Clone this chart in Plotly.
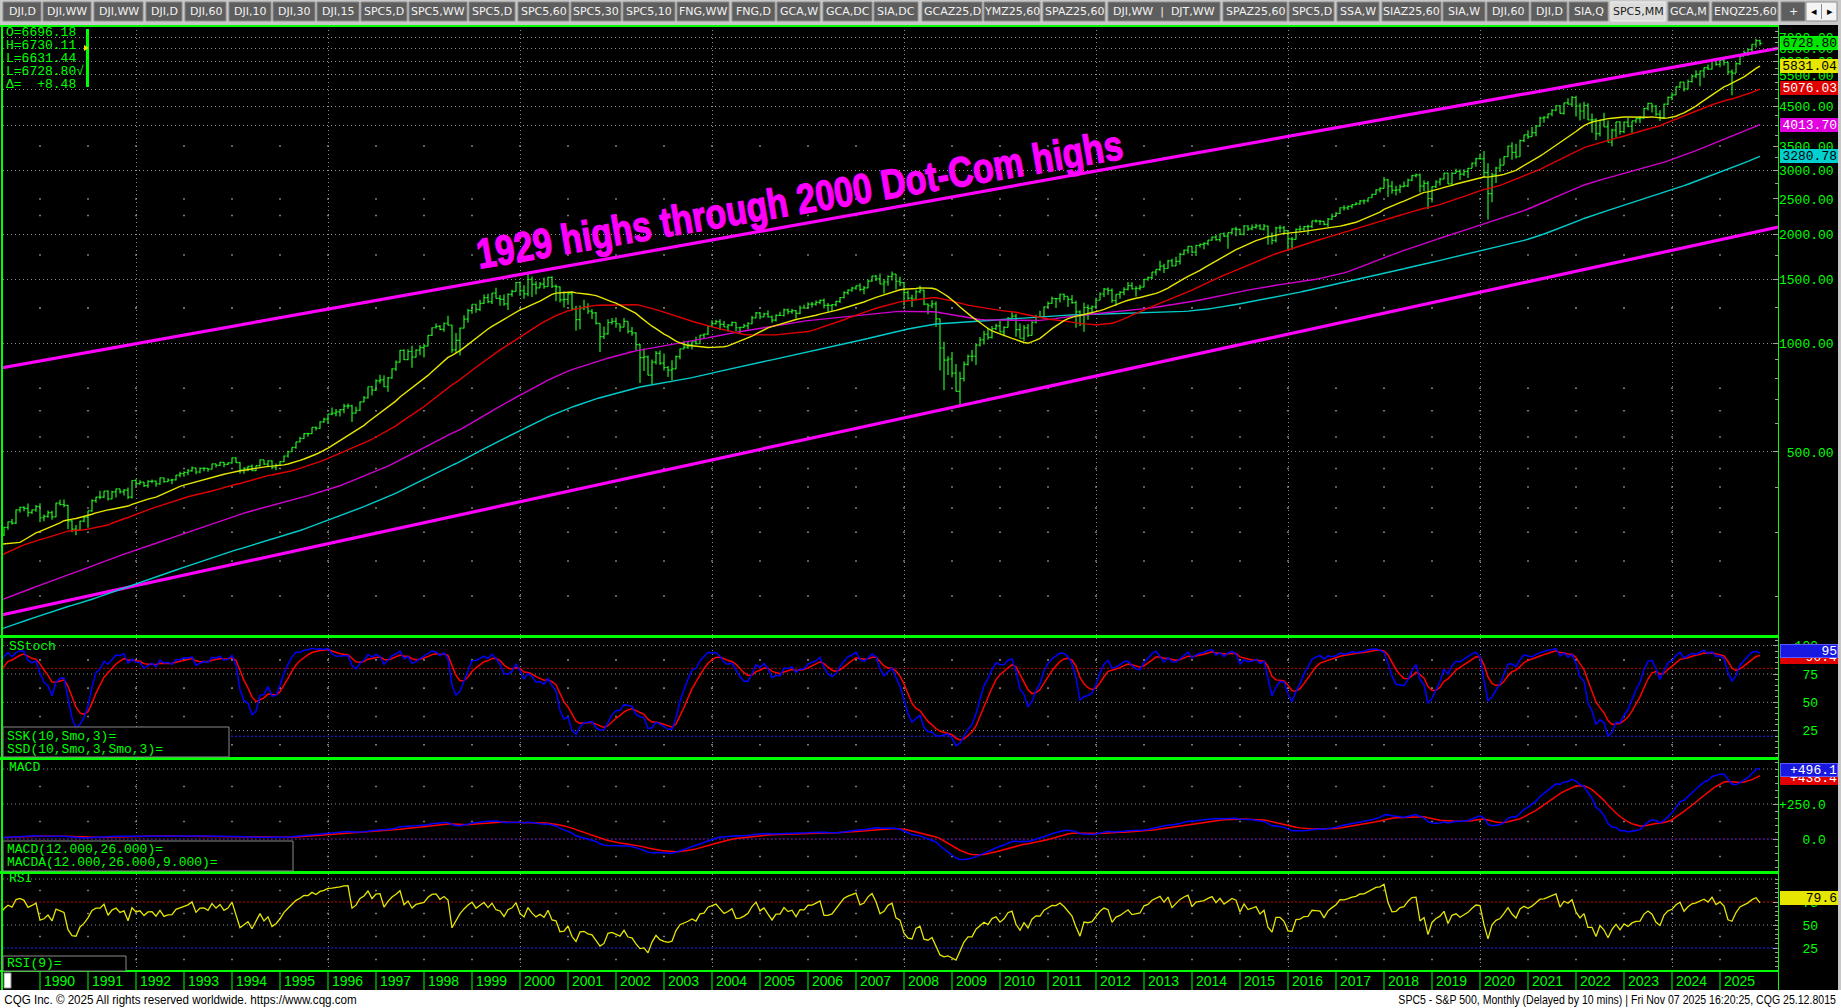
import math
import numpy as np
import pandas as pd
import plotly.graph_objects as go

# ----------------------------------------------------------------- DATA
# Monthly closes Jan 1976 .. Mar 1989 (warm-up history for the averages/indicators, not drawn)
HIST_CLOSE = [
    100.86, 99.71, 102.77, 101.64, 100.18, 104.28, 103.44, 102.91, 105.24, 102.90, 102.10, 107.46,
    102.03, 99.82, 98.42, 98.44, 96.12, 100.48, 98.85, 96.77, 96.53, 92.34, 94.83, 95.10,
    89.25, 87.04, 89.21, 96.83, 97.24, 95.53, 100.68, 103.29, 102.54, 93.15, 94.70, 96.11,
    99.93, 96.28, 101.59, 101.76, 99.08, 102.91, 103.81, 109.32, 109.32, 101.82, 106.16, 107.94,
    114.16, 113.66, 102.09, 106.29, 111.24, 114.24, 121.67, 122.38, 125.46, 127.47, 140.52, 135.76,
    129.55, 131.27, 136.00, 132.81, 132.59, 131.21, 130.92, 122.79, 116.18, 121.89, 126.35, 122.55,
    120.40, 113.11, 111.96, 116.44, 111.88, 109.61, 107.09, 119.51, 120.42, 133.71, 138.54, 140.64,
    145.30, 148.06, 152.96, 164.42, 162.39, 168.11, 162.56, 164.40, 166.07, 163.55, 166.40, 164.93,
    163.41, 157.06, 159.18, 160.05, 150.55, 153.18, 150.66, 166.68, 166.10, 166.09, 163.58, 167.24,
    179.63, 181.18, 180.66, 179.83, 189.55, 191.85, 190.92, 188.63, 182.08, 189.82, 202.17, 211.28,
    211.78, 226.92, 238.90, 235.52, 247.35, 250.84, 236.12, 252.93, 231.32, 243.98, 249.22, 242.17,
    274.08, 284.20, 291.70, 288.36, 290.10, 304.00, 318.66, 329.80, 321.83, 251.79, 230.30, 247.08,
    257.07, 267.82, 258.89, 261.33, 262.16, 273.50, 272.02, 261.52, 271.91, 278.97, 273.70, 277.72,
    297.47, 288.86, 294.87,
]
HIST_START_YEAR = 1976

# Drawn monthly bars, Apr 1989 .. Nov 2025
CLOSE = [
    309.64, 320.52, 317.98, 346.08, 351.45, 349.15, 340.36, 345.99, 353.40,
    329.08, 331.89, 339.94, 330.80, 361.23, 358.02, 356.15, 322.56, 306.05, 304.00, 322.22, 330.22,
    343.93, 367.07, 375.22, 375.34, 389.83, 371.16, 387.81, 395.43, 387.86, 392.45, 375.22, 417.09,
    408.79, 412.70, 403.69, 414.95, 415.35, 408.14, 424.21, 414.03, 417.80, 418.68, 431.35, 435.71,
    438.78, 443.38, 451.67, 440.19, 450.19, 450.53, 448.13, 463.56, 458.93, 467.83, 461.79, 466.45,
    481.61, 467.14, 445.77, 450.91, 456.50, 444.27, 458.26, 475.49, 462.69, 472.35, 453.69, 459.27,
    470.42, 487.39, 500.71, 514.71, 533.40, 544.75, 562.06, 561.88, 584.41, 581.50, 605.37, 615.93,
    636.02, 640.43, 645.50, 654.17, 669.12, 670.63, 639.95, 651.99, 687.31, 705.27, 757.02, 740.74,
    786.16, 790.82, 757.12, 801.34, 848.28, 885.14, 954.29, 899.47, 947.28, 914.62, 955.40, 970.43,
    980.28, 1049.34, 1101.75, 1111.75, 1090.82, 1133.84, 1120.67, 957.28, 1017.01, 1098.67, 1163.63, 1229.23,
    1279.64, 1238.33, 1286.37, 1335.18, 1301.84, 1372.71, 1328.72, 1320.41, 1282.71, 1362.93, 1388.91, 1469.25,
    1394.46, 1366.42, 1498.58, 1452.43, 1420.60, 1454.60, 1430.83, 1517.68, 1436.51, 1429.40, 1314.95, 1320.28,
    1366.01, 1239.94, 1160.33, 1249.46, 1255.82, 1224.42, 1211.23, 1133.58, 1040.94, 1059.78, 1139.45, 1148.08,
    1130.20, 1106.73, 1147.39, 1076.92, 1067.14, 989.82, 911.62, 916.07, 815.28, 885.76, 936.31, 879.82,
    855.70, 841.15, 848.18, 916.92, 963.59, 974.50, 990.31, 1008.01, 995.97, 1050.71, 1058.20, 1111.92,
    1131.13, 1144.94, 1126.21, 1107.30, 1120.68, 1140.84, 1101.72, 1104.24, 1114.58, 1130.20, 1173.82, 1211.92,
    1181.27, 1203.60, 1180.59, 1156.85, 1191.50, 1191.33, 1234.18, 1220.33, 1228.81, 1207.01, 1249.48, 1248.29,
    1280.08, 1280.66, 1294.87, 1310.61, 1270.09, 1270.20, 1276.66, 1303.82, 1335.85, 1377.94, 1400.63, 1418.30,
    1438.24, 1406.82, 1420.86, 1482.37, 1530.62, 1503.35, 1455.27, 1473.99, 1526.75, 1549.38, 1481.14, 1468.36,
    1378.55, 1330.63, 1322.70, 1385.59, 1400.38, 1280.00, 1267.38, 1282.83, 1166.36, 968.75, 896.24, 903.25,
    825.88, 735.09, 797.87, 872.81, 919.14, 919.32, 987.48, 1020.62, 1057.08, 1036.19, 1095.63, 1115.10,
    1073.87, 1104.49, 1169.43, 1186.69, 1089.41, 1030.71, 1101.60, 1049.33, 1141.20, 1183.26, 1180.55, 1257.64,
    1286.12, 1327.22, 1325.83, 1363.61, 1345.20, 1320.64, 1292.28, 1218.89, 1131.42, 1253.30, 1246.96, 1257.60,
    1312.41, 1365.68, 1408.47, 1397.91, 1310.33, 1362.16, 1379.32, 1406.58, 1440.67, 1412.16, 1416.18, 1426.19,
    1498.11, 1514.68, 1569.19, 1597.57, 1630.74, 1606.28, 1685.73, 1632.97, 1681.55, 1756.54, 1805.81, 1848.36,
    1782.59, 1859.45, 1872.34, 1883.95, 1923.57, 1960.23, 1930.67, 2003.37, 1972.29, 2018.05, 2067.56, 2058.90,
    1994.99, 2104.50, 2067.89, 2085.51, 2107.39, 2063.11, 2103.84, 1972.18, 1920.03, 2079.36, 2080.41, 2043.94,
    1940.24, 1932.23, 2059.74, 2065.30, 2096.95, 2098.86, 2173.60, 2170.95, 2168.27, 2126.15, 2198.81, 2238.83,
    2278.87, 2363.64, 2362.72, 2384.20, 2411.80, 2423.41, 2470.30, 2471.65, 2519.36, 2575.26, 2647.58, 2673.61,
    2823.81, 2713.83, 2640.87, 2648.05, 2705.27, 2718.37, 2816.29, 2901.52, 2913.98, 2711.74, 2760.17, 2506.85,
    2704.10, 2784.49, 2834.40, 2945.83, 2752.06, 2941.76, 2980.38, 2926.46, 2976.74, 3037.56, 3140.98, 3230.78,
    3225.52, 2954.22, 2584.59, 2912.43, 3044.31, 3100.29, 3271.12, 3500.31, 3363.00, 3269.96, 3621.63, 3756.07,
    3714.24, 3811.15, 3972.89, 4181.17, 4204.11, 4297.50, 4395.26, 4522.68, 4307.54, 4605.38, 4567.00, 4766.18,
    4515.55, 4373.94, 4530.41, 4131.93, 4132.15, 3785.38, 4130.29, 3955.00, 3585.62, 3871.98, 4080.11, 3839.50,
    4076.60, 3970.15, 4109.31, 4169.48, 4179.83, 4450.38, 4588.96, 4507.66, 4288.05, 4193.80, 4567.80, 4769.83,
    4845.65, 5096.27, 5254.35, 5035.69, 5277.51, 5460.48, 5522.30, 5648.40, 5762.48, 5705.45, 6032.38, 5881.63,
    6040.53, 5954.50, 5611.85, 5569.06, 5911.69, 6204.95, 6339.39, 6460.26, 6688.46, 6840.20, 6728.80,
]
HIGH = [
    310.5, 321.5, 326.7, 347.0, 353.0, 354.0, 360.0, 347.0, 357.0,
    360.6, 336.0, 344.5, 344.0, 362.0, 369.0, 369.8, 357.0, 325.0, 314.0, 323.0, 332.0,
    344.0, 370.0, 376.0, 391.0, 390.0, 392.0, 391.0, 396.0, 396.0, 395.0, 399.0, 418.0,
    420.8, 418.0, 413.0, 418.0, 420.0, 417.0, 425.0, 425.0, 423.0, 422.0, 432.0, 441.0,
    442.0, 449.0, 456.0, 451.0, 453.0, 454.0, 451.0, 464.0, 463.6, 470.0, 469.0, 468.0,
    482.9, 483.0, 469.0, 454.0, 458.0, 462.0, 459.0, 477.0, 476.0, 474.0, 474.0, 465.0,
    472.0, 489.0, 504.0, 515.0, 534.0, 551.0, 564.0, 565.0, 585.0, 588.0, 608.0, 622.0,
    637.0, 664.0, 657.0, 657.0, 679.0, 681.0, 675.0, 667.0, 690.0, 714.0, 758.0, 762.0,
    794.0, 817.0, 815.0, 805.0, 851.0, 895.0, 957.0, 961.0, 961.0, 983.0, 961.0, 986.0,
    993.0, 1051.0, 1106.0, 1132.0, 1122.0, 1139.0, 1190.0, 1121.0, 1066.0, 1103.0, 1193.0, 1244.0,
    1280.0, 1284.0, 1317.0, 1362.0, 1368.0, 1375.0, 1420.0, 1356.0, 1361.0, 1373.0, 1404.0, 1474.0,
    1478.0, 1444.0, 1552.9, 1527.0, 1481.0, 1475.0, 1517.0, 1525.0, 1530.0, 1450.0, 1433.0, 1390.0,
    1384.0, 1377.0, 1268.0, 1269.0, 1316.0, 1287.0, 1239.0, 1218.0, 1135.0, 1111.0, 1164.0, 1173.0,
    1176.0, 1130.0, 1173.0, 1147.0, 1107.0, 1070.0, 994.0, 965.0, 924.0, 901.0, 951.0, 954.0,
    935.0, 864.0, 896.0, 924.0, 965.0, 1015.0, 1015.0, 1011.0, 1040.0, 1053.0, 1063.0, 1112.0,
    1155.0, 1159.0, 1163.0, 1150.0, 1128.0, 1147.0, 1141.0, 1109.0, 1131.0, 1142.0, 1188.0, 1217.0,
    1217.9, 1212.0, 1229.0, 1192.0, 1200.0, 1219.0, 1245.0, 1245.0, 1243.0, 1233.0, 1270.0, 1276.0,
    1295.0, 1297.0, 1310.0, 1318.0, 1326.7, 1290.0, 1280.0, 1307.0, 1340.0, 1389.0, 1407.0, 1431.0,
    1441.0, 1461.6, 1438.0, 1498.0, 1535.0, 1540.0, 1555.9, 1503.0, 1538.0, 1576.1, 1552.0, 1523.0,
    1471.0, 1396.0, 1359.0, 1404.0, 1440.2, 1404.0, 1285.0, 1313.0, 1303.0, 1167.0, 1007.5, 918.9,
    943.9, 875.0, 832.9, 888.7, 930.2, 956.2, 996.7, 1039.5, 1080.2, 1101.4, 1113.7, 1130.4,
    1150.5, 1112.4, 1180.2, 1219.8, 1205.1, 1131.2, 1120.9, 1129.2, 1148.9, 1196.1, 1227.1, 1262.6,
    1302.7, 1344.1, 1332.3, 1370.6, 1370.6, 1345.2, 1356.5, 1307.4, 1230.7, 1292.7, 1277.6, 1269.4,
    1333.5, 1378.0, 1419.2, 1422.4, 1415.3, 1363.5, 1392.0, 1426.7, 1474.5, 1470.96, 1434.3, 1448.0,
    1503.3, 1525.8, 1570.3, 1597.6, 1687.2, 1654.2, 1698.0, 1709.7, 1729.9, 1775.2, 1813.6, 1849.4,
    1850.8, 1867.9, 1883.97, 1897.3, 1924.0, 1968.2, 1991.4, 2005.0, 2019.3, 2018.2, 2075.8, 2093.6,
    2072.4, 2119.6, 2114.9, 2125.9, 2134.7, 2129.9, 2132.8, 2112.7, 2020.9, 2094.3, 2116.5, 2104.3,
    2038.2, 1962.96, 2072.2, 2111.1, 2103.5, 2120.6, 2177.1, 2193.8, 2187.9, 2169.6, 2214.1, 2277.5,
    2300.99, 2371.5, 2400.98, 2398.2, 2418.7, 2453.8, 2484.0, 2490.9, 2519.4, 2582.98, 2657.7, 2694.97,
    2872.9, 2835.96, 2801.9, 2717.5, 2742.2, 2791.5, 2848.0, 2916.5, 2940.9, 2939.9, 2815.2, 2800.2,
    2708.95, 2813.5, 2860.3, 2949.5, 2954.1, 2964.2, 3027.98, 3013.6, 3021.99, 3050.1, 3154.3, 3247.9,
    3337.8, 3393.5, 3136.7, 2954.9, 3068.7, 3233.1, 3279.99, 3514.8, 3588.1, 3549.9, 3645.99, 3760.2,
    3870.9, 3950.4, 3994.4, 4218.8, 4238.0, 4302.4, 4429.97, 4537.4, 4545.9, 4608.1, 4743.8, 4808.9,
    4818.6, 4595.3, 4637.3, 4593.5, 4307.7, 4177.5, 4140.2, 4325.3, 4119.3, 3905.4, 4080.1, 4100.96,
    4094.2, 4195.4, 4110.8, 4170.1, 4231.1, 4458.5, 4607.1, 4584.6, 4541.3, 4393.6, 4587.6, 4793.3,
    4931.1, 5111.1, 5264.9, 5263.95, 5341.9, 5505.5, 5669.7, 5651.6, 5767.4, 5878.5, 6044.2, 6099.97,
    6128.2, 6147.4, 5986.1, 5695.3, 5968.6, 6215.1, 6427.0, 6508.2, 6699.5, 6920.3, 6890.6,
]
LOW = [
    293.0, 305.0, 314.5, 316.0, 340.0, 343.0, 331.0, 337.0, 342.0,
    320.0, 322.0, 329.0, 325.0, 330.0, 356.0, 352.0, 306.0, 300.0, 294.5, 303.0, 320.0,
    309.0, 342.0, 362.0, 370.0, 373.0, 367.0, 370.0, 374.0, 384.0, 379.0, 371.0, 372.0,
    403.0, 406.0, 400.0, 398.0, 410.0, 401.0, 406.0, 411.0, 413.0, 407.0, 417.0, 426.0,
    427.0, 431.0, 441.0, 434.0, 437.0, 442.0, 441.0, 447.0, 453.0, 457.0, 454.0, 460.0,
    464.0, 466.0, 436.0, 435.0, 442.0, 442.0, 443.0, 455.0, 460.0, 454.0, 448.0, 445.0,
    457.0, 468.0, 483.0, 499.0, 510.0, 531.0, 544.0, 551.0, 561.0, 573.0, 579.0, 602.0,
    597.0, 632.0, 628.0, 627.0, 640.0, 658.0, 605.0, 639.0, 649.0, 686.0, 703.0, 716.0,
    737.0, 773.0, 755.0, 733.0, 797.0, 837.0, 883.0, 898.0, 896.0, 855.0, 912.0, 925.0,
    912.0, 980.0, 1046.0, 1096.0, 1084.0, 1074.0, 1118.0, 940.0, 939.0, 923.0, 1096.0, 1137.0,
    1205.0, 1212.0, 1226.0, 1282.0, 1287.0, 1281.0, 1328.0, 1268.0, 1268.0, 1233.7, 1342.0, 1387.0,
    1350.0, 1325.0, 1346.0, 1339.0, 1361.0, 1421.0, 1413.0, 1431.0, 1419.0, 1305.0, 1294.0, 1254.0,
    1275.0, 1229.0, 1081.0, 1091.0, 1232.0, 1203.0, 1165.0, 1124.0, 944.8, 1026.0, 1054.0, 1124.0,
    1101.0, 1074.0, 1106.0, 1063.0, 1048.0, 952.9, 775.7, 837.0, 815.0, 768.6, 872.0, 870.0,
    840.0, 806.0, 788.9, 847.0, 902.0, 963.0, 962.0, 960.0, 990.0, 995.0, 1031.0, 1053.0,
    1105.0, 1124.0, 1087.0, 1107.0, 1076.0, 1113.0, 1078.0, 1060.7, 1101.0, 1090.0, 1127.0, 1173.0,
    1163.0, 1180.0, 1176.0, 1137.0, 1146.0, 1188.0, 1183.0, 1201.0, 1205.0, 1168.0, 1201.0, 1246.0,
    1245.0, 1253.0, 1268.0, 1280.0, 1245.0, 1219.0, 1224.0, 1261.0, 1290.0, 1327.0, 1360.0, 1385.0,
    1403.0, 1389.0, 1364.0, 1416.0, 1476.0, 1484.0, 1452.0, 1370.6, 1439.0, 1489.0, 1406.1, 1435.0,
    1270.1, 1316.0, 1256.9, 1312.0, 1373.0, 1272.0, 1200.4, 1248.0, 1106.4, 839.8, 741.0, 815.7,
    804.3, 734.5, 666.8, 783.3, 866.1, 888.9, 869.3, 978.5, 991.0, 1020.2, 1029.4, 1085.9,
    1071.6, 1044.5, 1105.4, 1170.7, 1040.8, 1028.3, 1010.9, 1039.7, 1049.3, 1131.9, 1173.0, 1180.8,
    1256.0, 1282.9, 1249.1, 1294.7, 1311.8, 1258.1, 1282.9, 1101.5, 1114.2, 1074.8, 1158.7, 1202.4,
    1258.9, 1312.0, 1340.0, 1357.4, 1291.98, 1266.7, 1325.4, 1354.7, 1396.6, 1403.3, 1343.4, 1398.1,
    1426.2, 1485.0, 1501.5, 1536.0, 1581.3, 1560.3, 1604.6, 1627.5, 1633.4, 1646.5, 1746.2, 1767.99,
    1770.5, 1737.9, 1834.4, 1814.4, 1859.8, 1915.98, 1916.5, 1904.8, 1964.0, 1820.7, 2001.0, 1972.6,
    1988.1, 1980.9, 2039.7, 2048.4, 2067.9, 2056.3, 2044.0, 1867.0, 1871.9, 1893.7, 2019.4, 1993.3,
    1812.3, 1810.1, 1937.1, 2033.8, 2025.9, 1991.7, 2074.0, 2147.6, 2119.1, 2114.7, 2083.8, 2187.4,
    2245.1, 2271.7, 2322.3, 2328.95, 2352.7, 2405.7, 2407.7, 2417.4, 2446.6, 2520.4, 2566.2, 2605.5,
    2682.4, 2532.7, 2585.9, 2553.8, 2594.6, 2691.99, 2698.95, 2796.3, 2864.1, 2603.5, 2631.1, 2346.6,
    2443.96, 2681.8, 2722.3, 2848.6, 2750.5, 2728.8, 2952.2, 2822.1, 2891.9, 2855.96, 3050.7, 3070.3,
    3214.6, 2855.8, 2191.9, 2447.5, 2766.6, 2965.7, 3101.2, 3284.5, 3209.5, 3233.9, 3279.7, 3594.0,
    3662.7, 3725.6, 3723.3, 3955.5, 4056.9, 4164.4, 4233.1, 4367.7, 4305.9, 4278.9, 4560.0, 4495.1,
    4222.6, 4114.7, 4157.9, 4124.3, 3810.3, 3636.9, 3721.6, 3954.5, 3584.1, 3491.6, 3698.2, 3764.5,
    3794.3, 3943.1, 3808.9, 4049.3, 4048.3, 4166.2, 4385.1, 4335.3, 4238.6, 4103.8, 4167.2, 4546.5,
    4682.1, 4853.4, 5056.8, 4953.6, 5011.1, 5234.3, 5390.95, 5119.3, 5402.6, 5674.0, 5696.5, 5832.3,
    5773.3, 5837.7, 5504.7, 4835.0, 5578.6, 5861.4, 6201.0, 6212.7, 6360.6, 6550.2, 6631.4,
]

MA_PERIODS = [23, 44, 103, 159]                      # yellow, red, magenta, cyan
PRICE_LAST = 6728.80
MA_LAST = [5831.04, 5076.03, 4013.70, 3280.78]
SSK_LAST, SSD_LAST = "95", "90.4"
SSK_LAST_V, SSD_LAST_V = 95.0, 90.4
MACD_LAST, MACDA_LAST = "+496.1", "+438.4"
MACD_LAST_V, MACDA_LAST_V = 496.1, 438.4
RSI_LAST, RSI_LAST_V = "79.6", 79.6
INFO_LINES = ["O=6696.18", "H=6730.11", "L=6631.44", "L=6728.80\u221a", "\u0394=\u00a0\u00a0+8.48"]

YEARS = list(range(1990, 2026))
GRID_YEARS = list(range(1992, 2025, 4))
PRICE_LABELS = [500, 1000, 1500, 2000, 2500, 3000, 3500, 4000, 4500, 5000, 5500, 6000, 6500, 7000]
PRICE_HIDDEN = [4000, 5000]          # labels fully covered by value boxes in the reference
PRICE_GRID = [500, 1000, 1500, 2000, 3000, 4000, 4500, 5000, 5500, 6000, 6500, 7000]
PRICE_DOTS = [200, 250, 300, 350, 400, 450, 550, 650, 750, 1250, 1750, 2250, 2500, 3500]
PRICE_MINOR = [200, 300, 400, 600, 700, 800, 900] + list(range(1250, 7500, 250))

TREND_X = [1989.0, 2026.5]
TREND_UPPER = [845.0, 6620.0]
TREND_LOWER = [175.0, 2130.0]
TREND_TEXT = "1929 highs through 2000 Dot-Com highs"

TABS = ["DJI,D", "DJI,WW", "DJI,WW", "DJI,D", "DJI,60", "DJI,10", "DJI,30", "DJI,15", "SPC5,D",
        "SPC5,WW", "SPC5,D", "SPC5,60", "SPC5,30", "SPC5,10", "FNG,WW", "FNG,D", "GCA,W", "GCA,DC",
        "SIA,DC", "GCAZ25,D", "YMZ25,60", "SPAZ25,60", "DJI,WW\u00a0\u00a0|\u00a0\u00a0DJT,WW", "SPAZ25,60",
        "SPC5,D", "SSA,W", "SIAZ25,60", "SIA,W", "DJI,60", "DJI,D", "SIA,Q", "SPC5,MM", "GCA,M",
        "ENQZ25,60", "+"]
ACTIVE_TAB = 31
FOOTER_LEFT = "CQG Inc. \u00a9 2025 All rights reserved worldwide. https://www.cqg.com"
FOOTER_RIGHT = "SPC5 - S&amp;P 500, Monthly (Delayed by 10 mins) | Fri Nov 07 2025 16:20:25, CQG 25.12.8015"

# ----------------------------------------------------------------- GEOMETRY / STYLE
W, H = 1841, 1008
PL, PR, PT, PB = 3, 1778, 26, 970
PW, PH = PR - PL, PB - PT
TAB_EDGES = [(3, 41), (43, 91), (94, 143), (146, 182), (185, 226), (229, 271), (273, 315), (317, 359),
             (361, 407), (409, 467), (469, 515), (518, 569), (571, 621), (623, 675), (677, 729),
             (732, 775), (777, 820), (823, 872), (874, 918), (922, 982), (984, 1040), (1043, 1105),
             (1108, 1220), (1223, 1287), (1289, 1334), (1337, 1379), (1382, 1441), (1443, 1485),
             (1487, 1529), (1531, 1567), (1569, 1608), (1611, 1665), (1668, 1709), (1712, 1778),
             (1781, 1805)]


def xp(X):
    return (X - PL) / PW


def yp(Y):
    return (PB - Y) / PH


GREEN = "#00ff00"
BAR_GREEN = "#22ee22"
GRIDC = "#8e8e8e"
MONO = "Liberation Mono, DejaVu Sans Mono, monospace"
SANS = "Liberation Sans, Arial, sans-serif"
TABFONT = "DejaVu Sans, Verdana, sans-serif"
MA_COLORS = ["#e6e600", "#e00000", "#d000d0", "#00cccc"]
BOX_BG = ["#e6e600", "#e00000", "#e000e0", "#00d0d0"]
BOX_FG = ["black", "white", "white", "black"]

# ----------------------------------------------------------------- COMPUTATION
n_hist = len(HIST_CLOSE)
n = min(len(CLOSE), len(HIGH), len(LOW))
cl = np.array(CLOSE[:n], float)
op = np.array([HIST_CLOSE[-1]] + CLOSE[:n - 1], float)
hi = np.maximum.reduce([np.array(HIGH[:n], float), op, cl])
lo = np.minimum.reduce([np.array(LOW[:n], float), op, cl])

c_all = pd.Series(np.concatenate([HIST_CLOSE, cl]))
h_all = pd.Series(np.concatenate([HIST_CLOSE, hi]))
l_all = pd.Series(np.concatenate([HIST_CLOSE, lo]))
t_all = HIST_START_YEAR + np.arange(len(c_all)) / 12.0
t_bar = t_all[n_hist:]
s0 = n_hist - 1  # start drawn lines one month before first bar

mas = [c_all.rolling(p).mean() for p in MA_PERIODS]


def smo(s, k):
    return s.ewm(alpha=1.0 / k, adjust=False).mean()


ll = l_all.rolling(10).min()
hh = h_all.rolling(10).max()
ssk = 100 * smo(c_all - ll, 3) / smo(hh - ll, 3)
ssd = smo(ssk, 3)

macd = c_all.ewm(span=12, adjust=False).mean() - c_all.ewm(span=26, adjust=False).mean()
macda = macd.ewm(span=9, adjust=False).mean()

d = c_all.diff()
ag = d.clip(lower=0).ewm(alpha=1 / 9, adjust=False).mean()
al = (-d.clip(upper=0)).ewm(alpha=1 / 9, adjust=False).mean()
rsi = 100 - 100 / (1 + ag / al)

# axis ranges from pixel rows
X0 = (1989 + 3 / 12) - 0.25 / 12
X1 = X0 + PW / 48.0
LOG_RANGE = [3 - (635 - 343) / 362.0, 3 + (343 - 26) / 362.0]
STO_RANGE = [(758.9 - 757) / 1.132, (758.9 - 638) / 1.132]
MACD_RANGE = [(839 - 871) / 0.14, (839 - 760) / 0.14]
RSI_RANGE = [(971 - 970) / 0.92, (971 - 874) / 0.92]

# ----------------------------------------------------------------- TRACES
fig = go.Figure()


def dots(levels, yaxis):
    xs, ys = [], []
    for lv in levels:
        for yr in YEARS:
            xs.append(yr)
            ys.append(lv)
    fig.add_trace(go.Scatter(x=xs, y=ys, mode="markers", yaxis=yaxis, hoverinfo="skip",
                             marker=dict(symbol="square", size=1.6, color="#9a9a9a", line=dict(width=0))))


dots(PRICE_DOTS, "y")
dots([12.5, 37.5, 62.5, 87.5], "y2")
dots([-125, 125, 375], "y3")
dots([12.5, 37.5, 62.5, 87.5], "y4")

for ty in (TREND_UPPER, TREND_LOWER):
    fig.add_trace(go.Scatter(x=TREND_X, y=ty, mode="lines", yaxis="y", hoverinfo="skip",
                             line=dict(color="#ff00ff", width=3.2)))

for ma, col in reversed(list(zip(mas, MA_COLORS))):
    fig.add_trace(go.Scatter(x=t_all[s0:], y=ma.values[s0:], mode="lines", yaxis="y", hoverinfo="skip",
                             line=dict(color=col, width=1.4)))

fig.add_trace(go.Ohlc(x=t_bar, open=op, high=hi, low=lo, close=cl, yaxis="y", tickwidth=0.42,
                      increasing=dict(line=dict(color=BAR_GREEN, width=1.2)),
                      decreasing=dict(line=dict(color=BAR_GREEN, width=1.2)), hoverinfo="skip"))

fig.add_trace(go.Scatter(x=t_all[s0:], y=ssd.values[s0:], mode="lines", yaxis="y2",
                         line=dict(color="#ff0000", width=1.5), hoverinfo="skip"))
fig.add_trace(go.Scatter(x=t_all[s0:], y=ssk.values[s0:], mode="lines", yaxis="y2",
                         line=dict(color="#0000ff", width=1.5), hoverinfo="skip"))
fig.add_trace(go.Scatter(x=t_all[s0:], y=macda.values[s0:], mode="lines", yaxis="y3",
                         line=dict(color="#ff0000", width=1.5), hoverinfo="skip"))
fig.add_trace(go.Scatter(x=t_all[s0:], y=macd.values[s0:], mode="lines", yaxis="y3",
                         line=dict(color="#0000ff", width=1.5), hoverinfo="skip"))
fig.add_trace(go.Scatter(x=t_all[s0:], y=rsi.values[s0:], mode="lines", yaxis="y4",
                         line=dict(color="#e6e600", width=1.3), hoverinfo="skip"))

# ----------------------------------------------------------------- SHAPES
shapes = []


def prect(X0_, Y0_, X1_, Y1_, fill, line=None, lw=0, layer="above"):
    shapes.append(dict(type="rect", xref="paper", yref="paper", x0=xp(X0_), x1=xp(X1_),
                       y0=yp(Y1_), y1=yp(Y0_), fillcolor=fill, layer=layer,
                       line=dict(color=line or fill, width=lw)))


def pline(X0_, Y0_, X1_, Y1_, color, width, dash="solid", layer="above"):
    shapes.append(dict(type="line", xref="paper", yref="paper", x0=xp(X0_), x1=xp(X1_),
                       y0=yp(Y0_), y1=yp(Y1_), layer=layer, line=dict(color=color, width=width, dash=dash)))


def hline(yref, v, color, dash="1px,3px"):
    shapes.append(dict(type="line", xref="paper", yref=yref, x0=0, x1=1, y0=v, y1=v, layer="below",
                       line=dict(color=color, width=1, dash=dash)))


for v in (25, 50, 75, 100):
    hline("y2", v, GRIDC)
hline("y2", 80, "#c00000", "2px,2px")
hline("y2", 20, "#2020ff", "2px,2px")
for v in (250, 500):
    hline("y3", v, GRIDC)
hline("y3", 0, "#2020ff", "2px,2px")
hline("y3", 0, "#c00000", "1px,3px")
for v in (50, 100):
    hline("y4", v, GRIDC)
hline("y4", 75, "#c00000", "2px,2px")
hline("y4", 25, "#2020ff", "2px,2px")

# tab strip
prect(0, 0, W, 25, "#c8c8c8")
for i, (lab, (a, b)) in enumerate(zip(TABS, TAB_EDGES)):
    act = i == ACTIVE_TAB
    prect(a, 2, b, 21, "#dcdcdc" if act else "#5e5e5e", "#f0f0f0" if act else "#8c8c8c", 1)
prect(1806, 2, 1837, 21, "#f4f4f4", "#8c8c8c", 1)
pline(1821.5, 4, 1821.5, 19, "#8c8c8c", 1)

# panel frame
pline(0, 26, 1779, 26, GREEN, 2)
pline(0, 636.5, 1779, 636.5, GREEN, 3)
pline(0, 758.5, 1779, 758.5, GREEN, 3)
pline(0, 872.5, 1779, 872.5, GREEN, 3)
pline(0, 971, 1779, 971, GREEN, 2)
pline(2, 26, 2, 990, GREEN, 2)
pline(1778.5, 26, 1778.5, 990, GREEN, 1)
pline(1839.5, 25, 1839.5, 990, "#c8c8c8", 3)

# indicator parameter boxes
prect(3, 727, 229, 757, "black", "#8a8a8a", 1)
prect(3, 841, 293, 871, "black", "#8a8a8a", 1)
prect(3, 956, 126, 971, "black", "#8a8a8a", 1)

# info box bar + marker
prect(86, 29, 89, 87, GREEN)
shapes.append(dict(type="path", xref="paper", yref="paper", layer="above",
                   path="M {} {} L {} {} L {} {} Z".format(xp(84), yp(45), xp(89), yp(48), xp(84), yp(51)),
                   fillcolor="#e6e600", line=dict(width=0)))

# x-axis row
for yr in YEARS:
    shapes.append(dict(type="line", xref="x", yref="paper", x0=yr, x1=yr, y0=yp(971), y1=yp(990),
                       layer="above", line=dict(color=GREEN, width=1)))
prect(4, 973, 11, 988, "white", "#909090", 1)
prect(0, 990, W, H, "white")

# ----------------------------------------------------------------- ANNOTATIONS
ann = []


def ptext(X, Y, text, size=13, color=GREEN, family=MONO, xanchor="left", **kw):
    ann.append(dict(x=xp(X), y=yp(Y), xref="paper", yref="paper", text=text, showarrow=False,
                    xanchor=xanchor, yanchor="middle", font=dict(family=family, size=size, color=color), **kw))


def vbox(yref, yv, text, bg, fg, border=None):
    ann.append(dict(x=xp(1780), y=yv, xref="paper", yref=yref, text=text, showarrow=False,
                    xanchor="left", yanchor="middle", width=56, height=12, align="right",
                    bgcolor=bg, bordercolor=border or bg, borderwidth=1, borderpad=0,
                    font=dict(family=MONO, size=13, color=fg)))


for i, (lab, (a, b)) in enumerate(zip(TABS, TAB_EDGES)):
    act = i == ACTIVE_TAB
    ptext((a + b) / 2, 12, lab, size=11, color="#202020" if act else "#f2f2f2", family=TABFONT,
          xanchor="center")
ptext(1813.5, 12, "\u25c2", size=11, color="black", family=TABFONT, xanchor="center")
ptext(1829.5, 12, "\u25b8", size=11, color="black", family=TABFONT, xanchor="center")

for k, line in enumerate(INFO_LINES):
    ptext(4, 32.5 + k * 13.1, line)

ptext(7, 646, "SStoch")
ptext(5, 736, "SSK(10,Smo,3)=")
ptext(5, 749.5, "SSD(10,Smo,3,Smo,3)=")
ptext(7, 767, "MACD")
ptext(5, 849, "MACD(12.000,26.000)=")
ptext(5, 862.5, "MACDA(12.000,26.000,9.000)=")
ptext(7, 878, "RSI")
ptext(5, 963.5, "RSI(9)=")

# rotated trend line caption (condensed horizontally in post_script)
ann.append(dict(x=xp(799), y=yp(199.5), xref="paper", yref="paper", text="<b>" + TREND_TEXT + "</b>",
                showarrow=False, xanchor="center", yanchor="middle", textangle=-9.7,
                font=dict(family=SANS, size=42, color="#ff00ff")))

# year labels
for yr in YEARS:
    ann.append(dict(x=yr, y=yp(980.5), xref="x", yref="paper", text=str(yr), showarrow=False,
                    xanchor="left", yanchor="middle", xshift=2,
                    font=dict(family=SANS, size=14, color=GREEN)))

# last-value boxes
vbox("y", math.log10(PRICE_LAST), "{:.2f}".format(PRICE_LAST), "#00e600", "black", "#00ff00")
for v, bg, fg in zip(MA_LAST, BOX_BG, BOX_FG):
    vbox("y", math.log10(v), "{:.2f}".format(v), bg, fg)
vbox("y2", SSD_LAST_V, SSD_LAST, "#e00000", "white")
vbox("y2", SSK_LAST_V, SSK_LAST, "#1818e0", "white", "#5a5aff")
vbox("y3", MACDA_LAST_V, MACDA_LAST, "#e00000", "white")
vbox("y3", MACD_LAST_V, MACD_LAST, "#1818e0", "white", "#5a5aff")
vbox("y4", RSI_LAST_V, RSI_LAST, "#e6e600", "black")

# footer
ptext(2, 999.5, FOOTER_LEFT, size=12, color="black", family=SANS)
ptext(1838, 999.5, FOOTER_RIGHT, size=12, color="black", family=SANS, xanchor="right")


# ----------------------------------------------------------------- LAYOUT
def pad(s, width):
    return "\u00a0" * max(0, width - len(s)) + s


TICKFONT = dict(family=MONO, size=13, color=GREEN)
common = dict(showline=False, zeroline=False, fixedrange=True, side="right", anchor="x",
              tickfont=TICKFONT, ticks="inside", ticklen=5, tickcolor="#a0a0a0")

price_text = ["" if v in PRICE_HIDDEN else pad("{:.2f}".format(v), 7) for v in PRICE_LABELS]

layout = dict(
    width=W, height=H, margin=dict(l=PL, r=W - PR, t=PT, b=H - PB, pad=0),
    paper_bgcolor="black", plot_bgcolor="black", showlegend=False, hovermode=False,
    xaxis=dict(domain=[0, 1], range=[X0, X1], anchor="y4", showticklabels=False, ticks="",
               tickmode="array", tickvals=GRID_YEARS, showgrid=True, gridcolor=GRIDC, gridwidth=1,
               griddash="1px,3px", zeroline=False, showline=False, fixedrange=True,
               rangeslider=dict(visible=False)),
    yaxis=dict(domain=[yp(635), 1.0], type="log", range=LOG_RANGE, showticklabels=False, ticks="",
               tickmode="array", tickvals=PRICE_GRID, showgrid=True, gridcolor=GRIDC, gridwidth=1,
               griddash="1px,3px", zeroline=False, showline=False, fixedrange=True, side="right",
               anchor="x"),
    yaxis5=dict(overlaying="y", type="log", range=LOG_RANGE, showgrid=False, tickmode="array",
                tickvals=PRICE_LABELS, ticktext=price_text,
                minor=dict(tickmode="array", tickvals=PRICE_MINOR, ticks="inside", ticklen=3,
                           tickcolor="#a0a0a0", showgrid=False),
                **common),
    yaxis2=dict(domain=[yp(757), yp(638)], range=STO_RANGE, showgrid=False, tickmode="array",
                tickvals=[25, 50, 75, 100], ticktext=[pad(s, 5) for s in ["25", "50", "75", "100"]],
                minor=dict(tickmode="array", tickvals=list(range(5, 106, 5)), ticks="inside", ticklen=3,
                           tickcolor="#a0a0a0", showgrid=False),
                **common),
    yaxis3=dict(domain=[yp(871), yp(760)], range=MACD_RANGE, showgrid=False, tickmode="array",
                tickvals=[0, 250, 500], ticktext=[pad("0.0", 6), "+250.0", ""],
                minor=dict(tickmode="array", tickvals=list(range(-200, 561, 50)), ticks="inside", ticklen=3,
                           tickcolor="#a0a0a0", showgrid=False),
                **common),
    yaxis4=dict(domain=[0.0, yp(874)], range=RSI_RANGE, showgrid=False, tickmode="array",
                tickvals=[25, 50, 75], ticktext=[pad(s, 5) for s in ["25", "50", "75"]],
                minor=dict(tickmode="array", tickvals=list(range(5, 106, 5)), ticks="inside", ticklen=3,
                           tickcolor="#a0a0a0", showgrid=False),
                **common),
    shapes=shapes,
    annotations=ann,
)
fig.update_layout(**layout)

# attach an invisible trace to the label axis so it is rendered
fig.add_trace(go.Scatter(x=[X0], y=[1000], yaxis="y5", mode="markers", marker=dict(opacity=0),
                         hoverinfo="skip"))

POST = """
document.body.style.margin='0';document.body.style.overflow='hidden';
(function(){
  var gd=document.getElementById('{plot_id}');
  function fit(prefix, target, origin, stroke){
    gd.querySelectorAll('text.annotation-text').forEach(function(t){
      if(t.textContent.indexOf(prefix)===0){
        var L=t.getComputedTextLength();
        if(L>0){
          t.style.transformBox='fill-box';
          t.style.transformOrigin=origin;
          t.style.transform='scaleX('+(target/L)+')';
          if(stroke){ t.style.stroke=stroke; t.style.strokeWidth='1.2px'; }
        }
      }
    });
  }
  fit('1929 highs', 655, '50% 50%', '#ff00ff');
  fit('CQG Inc.', 353, '0% 50%', null);
  fit('SPC5 - S', 438, '100% 50%', null);
})();
"""

fig.write_html("out.html", include_plotlyjs=True, config={"displayModeBar": False, "staticPlot": True},
               post_script=POST)
